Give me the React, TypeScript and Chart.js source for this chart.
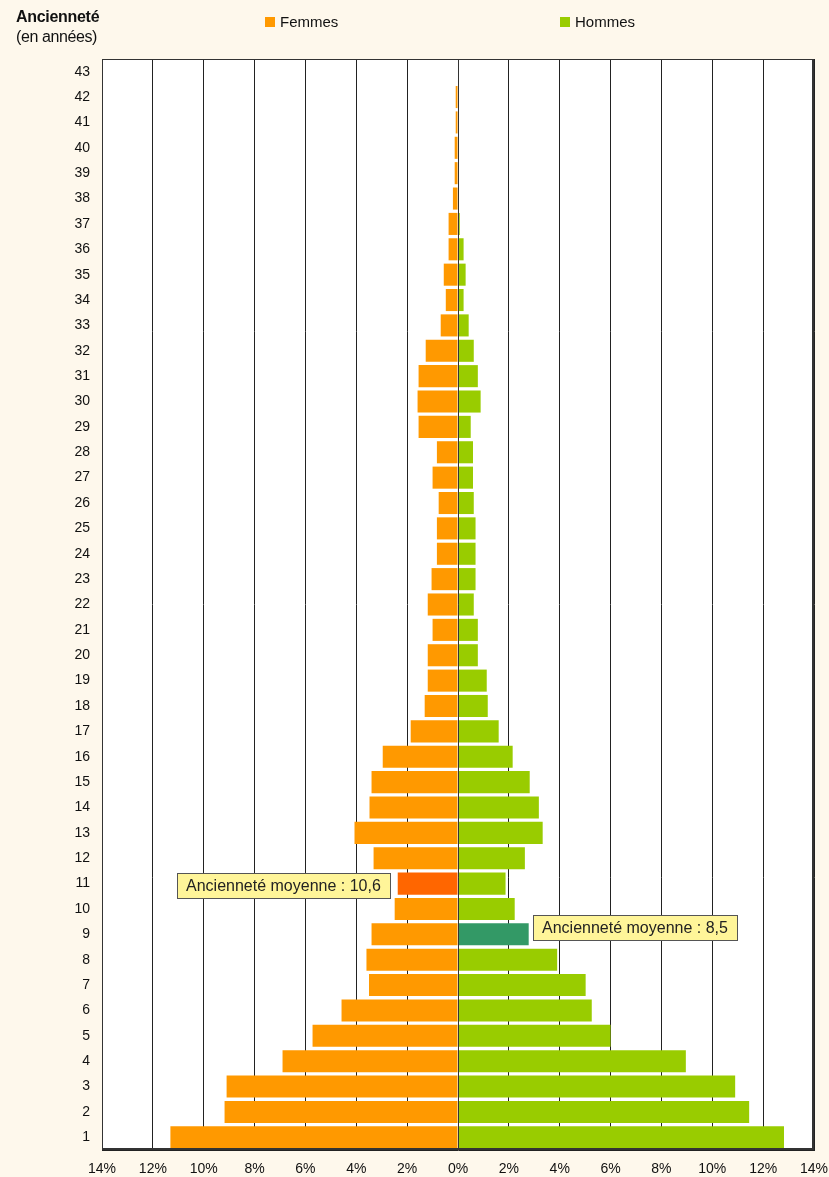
import React, { useEffect, useRef } from 'react';
import { Chart, registerables } from 'chart.js';

Chart.register(...registerables);

const categories = ['1', '2', '3', '4', '5', '6', '7', '8', '9', '10', '11', '12', '13', '14', '15', '16', '17', '18', '19', '20', '21', '22', '23', '24', '25', '26', '27', '28', '29', '30', '31', '32', '33', '34', '35', '36', '37', '38', '39', '40', '41', '42', '43'];

const femmes = [11.31, 9.18, 9.1, 6.9, 5.72, 4.58, 3.5, 3.6, 3.4, 2.49, 2.37, 3.32, 4.07, 3.48, 3.4, 2.96, 1.86, 1.31, 1.19, 1.19, 1.0, 1.19, 1.04, 0.83, 0.83, 0.76, 1.0, 0.83, 1.55, 1.59, 1.55, 1.27, 0.68, 0.48, 0.56, 0.37, 0.37, 0.2, 0.13, 0.13, 0.09, 0.09, 0];

const hommes = [12.82, 11.45, 10.9, 8.96, 6.0, 5.26, 5.02, 3.9, 2.78, 2.23, 1.87, 2.63, 3.33, 3.18, 2.82, 2.15, 1.6, 1.17, 1.13, 0.78, 0.78, 0.62, 0.69, 0.69, 0.69, 0.62, 0.59, 0.59, 0.5, 0.89, 0.78, 0.62, 0.42, 0.22, 0.3, 0.22, 0.07, 0, 0, 0, 0, 0, 0];

const xTicks = [-14, -12, -10, -8, -6, -4, -2, 0, 2, 4, 6, 8, 10, 12, 14];

const moyenneFemmes = '10,6';
const moyenneHommes = '8,5';
const moyenneFemmesRow = '11';
const moyenneHommesRow = '9';

const COLOR_F = '#FF9900';
const COLOR_F_HL = '#FF6600';
const COLOR_H = '#99CC00';
const COLOR_H_HL = '#339966';
const BG = '#FEF8EC';
const FONT = '"Liberation Sans", Arial, sans-serif';

const decorPlugin = {
  id: 'decor',
  beforeDraw(chart: any) {
    const { ctx, chartArea } = chart;
    ctx.save();
    ctx.fillStyle = BG;
    ctx.fillRect(0, 0, chart.width, chart.height);
    ctx.fillStyle = '#FFFFFF';
    ctx.fillRect(chartArea.left, chartArea.top, chartArea.right - chartArea.left, chartArea.bottom - chartArea.top);
    ctx.restore();
  },
  afterDraw(chart: any) {
    const { ctx, chartArea } = chart;
    const xs = chart.scales.x;
    const ys = chart.scales.y;
    ctx.save();
    // zero line over bars
    const x0 = Math.round(xs.getPixelForValue(0)) + 0.5;
    ctx.strokeStyle = '#333333';
    ctx.lineWidth = 1;
    ctx.beginPath();
    ctx.moveTo(x0, chartArea.top);
    ctx.lineTo(x0, chartArea.bottom);
    ctx.stroke();

    // border
    ctx.strokeStyle = '#333333';
    ctx.lineWidth = 1;
    ctx.strokeRect(Math.round(chartArea.left) + 0.5, Math.round(chartArea.top) + 0.5, Math.round(chartArea.right - chartArea.left) - 1, Math.round(chartArea.bottom - chartArea.top) - 1);
    ctx.lineWidth = 2;
    ctx.beginPath();
    ctx.moveTo(Math.round(chartArea.left), Math.round(chartArea.bottom) - 1);
    ctx.lineTo(Math.round(chartArea.right), Math.round(chartArea.bottom) - 1);
    ctx.moveTo(Math.round(chartArea.right) - 1, Math.round(chartArea.top));
    ctx.lineTo(Math.round(chartArea.right) - 1, Math.round(chartArea.bottom));
    ctx.stroke();

    // title
    ctx.fillStyle = '#111111';
    ctx.textBaseline = 'middle';
    ctx.textAlign = 'left';
    ctx.font = `bold 16px ${FONT}`;
    (ctx as any).letterSpacing = '-0.3px';
    ctx.fillText('Ancienneté', 16, 18);
    ctx.font = `16px ${FONT}`;
    (ctx as any).letterSpacing = '-0.4px';
    ctx.fillText('(en années)', 16, 38);
    (ctx as any).letterSpacing = '0px';

    // legend
    ctx.font = `15px ${FONT}`;
    ctx.fillStyle = COLOR_F;
    ctx.fillRect(265, 17, 10, 10);
    ctx.fillStyle = '#111111';
    ctx.fillText('Femmes', 280, 22.5);
    ctx.fillStyle = COLOR_H;
    ctx.fillRect(560, 17, 10, 10);
    ctx.fillStyle = '#111111';
    ctx.fillText('Hommes', 575, 22.5);

    // annotations
    const drawBox = (text: string, x: number, yc: number, alignRight: boolean) => {
      ctx.font = `16px ${FONT}`;
      const w = ctx.measureText(text).width + 18;
      const h = 25;
      const left = alignRight ? x - w : x;
      const top = Math.round(yc - h / 2);
      ctx.fillStyle = '#FFF599';
      ctx.fillRect(Math.round(left) + 0.5, top + 0.5, Math.round(w), h);
      ctx.strokeStyle = '#555555';
      ctx.lineWidth = 1;
      ctx.strokeRect(Math.round(left) + 0.5, top + 0.5, Math.round(w), h);
      ctx.fillStyle = '#222222';
      ctx.textAlign = 'left';
      ctx.textBaseline = 'middle';
      ctx.fillText(text, Math.round(left) + 9, top + h / 2 + 1);
    };
    const fi = categories.indexOf(moyenneFemmesRow);
    const hi = categories.indexOf(moyenneHommesRow);
    drawBox(`Ancienneté moyenne : ${moyenneFemmes}`, xs.getPixelForValue(-femmes[fi]) - 8, ys.getPixelForValue(fi) + 2, true);
    drawBox(`Ancienneté moyenne : ${moyenneHommes}`, xs.getPixelForValue(hommes[hi]) + 4, ys.getPixelForValue(hi) - 7, false);
    ctx.restore();
  },
};

export default function App() {
  const ref = useRef<HTMLCanvasElement | null>(null);
  useEffect(() => {
    if (!ref.current) return;
    const fi = categories.indexOf(moyenneFemmesRow);
    const hi = categories.indexOf(moyenneHommesRow);
    const chart = new Chart(ref.current, {
      type: 'bar',
      data: {
        labels: categories,
        datasets: [
          {
            label: 'Femmes',
            data: femmes.map((v) => -v),
            backgroundColor: femmes.map((_, i) => (i === fi ? COLOR_F_HL : COLOR_F)),
            barPercentage: 0.87,
            categoryPercentage: 1,
          },
          {
            label: 'Hommes',
            data: hommes,
            backgroundColor: hommes.map((_, i) => (i === hi ? COLOR_H_HL : COLOR_H)),
            barPercentage: 0.87,
            categoryPercentage: 1,
          },
        ],
      },
      options: {
        indexAxis: 'y',
        responsive: false,
        animation: false,
        layout: { padding: { top: 59, right: 15, left: 0, bottom: 0 } },
        plugins: { legend: { display: false }, tooltip: { enabled: false } },
        scales: {
          x: {
            stacked: true,
            min: -14,
            max: 14,
            afterBuildTicks: (scale: any) => {
              scale.ticks = xTicks.map((v) => ({ value: v }));
            },
            afterFit: (scale: any) => {
              scale.height = 27;
              scale.paddingRight = 0;
              scale.paddingLeft = 0;
            },
            grid: { color: '#222222', lineWidth: 1, drawTicks: false },
            border: { display: true, color: '#222222', width: 1 },
            ticks: {
              padding: 11,
              color: '#111111',
              font: { family: FONT, size: 14 },
              callback: (v: any) => `${Math.abs(Number(v))}%`,
              maxRotation: 0,
              autoSkip: false,
            },
          },
          y: {
            stacked: true,
            reverse: true,
            afterFit: (scale: any) => {
              scale.width = 102;
              scale.paddingTop = 0;
              scale.paddingBottom = 0;
            },
            grid: { display: false, drawTicks: false },
            border: { display: true, color: '#222222', width: 1 },
            ticks: {
              padding: 12,
              color: '#111111',
              autoSkip: false,
              font: { family: FONT, size: 14 },
            },
          },
        },
      },
      plugins: [decorPlugin],
    } as any);
    return () => chart.destroy();
  }, []);
  return (
    <div style={{ position: 'fixed', left: 0, top: 0, width: 829, height: 1177, background: BG }}>
      <canvas ref={ref} width={829} height={1177} style={{ display: 'block', width: 829, height: 1177 }} />
    </div>
  );
}
